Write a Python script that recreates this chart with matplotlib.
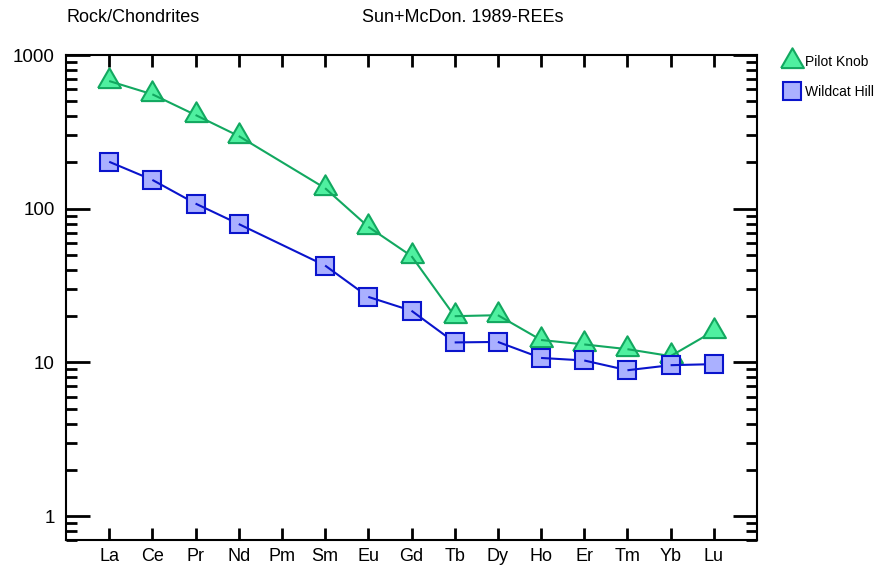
import numpy as np
import matplotlib
matplotlib.use("Agg")
import matplotlib.pyplot as plt
from matplotlib.ticker import LogLocator, FixedLocator, NullFormatter
from matplotlib.lines import Line2D

plt.rcParams['font.family'] = ['Liberation Sans', 'DejaVu Sans']

elements = ['La', 'Ce', 'Pr', 'Nd', 'Pm', 'Sm', 'Eu', 'Gd', 'Tb', 'Dy', 'Ho', 'Er', 'Tm', 'Yb', 'Lu']
# chondrite-normalised values (Pm not analysed)
pilot_knob = [677, 555, 407, 297, np.nan, 136, 76.3, 49.2, 20.0, 20.3, 14.0, 13.1, 12.2, 11.0, 16.0]
wildcat_hill = [202, 154, 108, 79.5, np.nan, 42.7, 26.7, 21.7, 13.5, 13.6, 10.7, 10.3, 8.9, 9.6, 9.75]

# equilateral triangle centred on its centroid
tri = [(-1, -0.577), (1, -0.577), (0, 1.155), (-1, -0.577)]

series = [
    ('Pilot Knob', pilot_knob, tri, 19, '#4ff0a0', '#12a860', '#12a860', 10),
    ('Wildcat Hill', wildcat_hill, 's', 13.5, '#aab0ff', '#0a14cc', '#0a14cc', 100),
]

fig = plt.figure(figsize=(8.85, 5.77), dpi=100)
ax = fig.add_axes([66 / 885, 1 - 540 / 577, (757 - 66) / 885, (540 - 55) / 577])

x = np.arange(1, len(elements) + 1)

for name, vals, mk, ms, fc, ec, lc, z in series:
    pts = [(xi, v) for xi, v in zip(x, vals) if not np.isnan(v)]
    # each marker is followed by the segment leaving it, so the next marker hides the segment end
    for i, (xi, v) in enumerate(pts):
        ax.plot([xi], [v], marker=mk, ms=ms, mfc=fc, mec=ec, mew=1.5,
                linestyle='none', zorder=z + 2 * i)
        if i + 1 < len(pts):
            xn, vn = pts[i + 1]
            ax.plot([xi, xn], [v, vn], color=lc, lw=1.5, zorder=z + 2 * i + 1,
                    solid_capstyle='butt')

ax.set_yscale('log')
ax.set_xlim(0, 16)
ax.set_ylim(0.7, 1000)

ax.xaxis.set_major_locator(FixedLocator(x))
ax.set_xticklabels(elements)
ax.yaxis.set_major_locator(FixedLocator([1, 10, 100, 1000]))
ax.set_yticklabels(['1', '10', '100', '1000'])
ax.yaxis.set_minor_locator(LogLocator(base=10, subs=np.arange(2, 10), numticks=20))
ax.yaxis.set_minor_formatter(NullFormatter())
ax.xaxis.set_minor_locator(FixedLocator([]))

ax.tick_params(axis='x', which='major', direction='in', length=8.5, width=2,
               top=True, bottom=True, labelsize=13, pad=6)
ax.tick_params(axis='y', which='major', direction='in', length=17, width=2,
               left=True, right=True, labelsize=13.5, pad=8)
ax.tick_params(axis='y', which='minor', direction='in', length=8, width=2,
               left=True, right=True)
for sp in ax.spines.values():
    sp.set_linewidth(1.5)

fig.text(66 / 885, 1 - 18 / 577, 'Rock/Chondrites', fontsize=13, va='center', ha='left')
fig.text(362 / 885, 1 - 18 / 577, 'Sun+McDon. 1989-REEs', fontsize=13, va='center', ha='left')

handles = [Line2D([], [], marker=s[2], ms=s[3], mfc=s[4], mec=s[5], mew=1.5, linestyle='none')
           for s in series]
ax.legend(handles, [s[0] for s in series], loc='upper left', bbox_to_anchor=(1.035, 1.0),
          frameon=False, fontsize=10, handlelength=1.6, handletextpad=0.1,
          labelspacing=1.15, borderaxespad=0, borderpad=0)

fig.savefig('out.png', dpi=100)
